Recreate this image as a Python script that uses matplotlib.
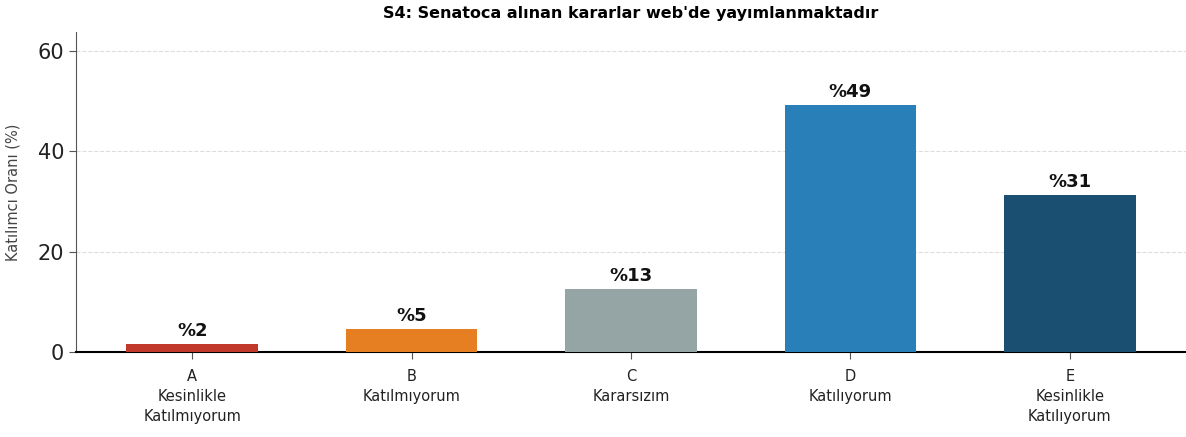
import matplotlib.pyplot as plt

# Survey answers for S4
letters = ["A", "B", "C", "D", "E"]
answers = ["Kesinlikle\nKatılmıyorum", "Katılmıyorum", "Kararsızım",
           "Katılıyorum", "Kesinlikle\nKatılıyorum"]
percent = [1.5, 4.6, 12.6, 49.2, 31.2]
colors = ["#c0392b", "#e67e22", "#95a5a6", "#2980b9", "#1b4f72"]

fig = plt.figure(figsize=(11.86, 4.37), dpi=100)
ax = fig.add_axes([76 / 1186, 1 - 352 / 437, 1 - 76 / 1186, 320 / 437])

x = range(len(letters))
bars = ax.bar(x, percent, width=0.6, color=colors, zorder=3)

for b, v in zip(bars, percent):
    ax.text(b.get_x() + b.get_width() / 2, v + 0.8, f"%{v:.0f}",
            ha="center", va="bottom", fontsize=13, fontweight="bold", color="#111111")

ax.set_xticks(list(x))
ax.set_xticklabels([f"{l}\n{a}" for l, a in zip(letters, answers)],
                   fontsize=10.5, color="#222222", linespacing=1.45)
ax.tick_params(axis="x", length=5, color="#555555", pad=7)
ax.tick_params(axis="y", labelsize=15, length=5, color="#555555", labelcolor="#222222")

ax.set_ylim(0, 63.7)
ax.set_yticks([0, 20, 40, 60])
ax.set_ylabel("Katılımcı Oranı (%)", fontsize=10.5, color="#444444", labelpad=12)
ax.set_title("S4: Senatoca alınan kararlar web'de yayımlanmaktadır",
             fontsize=11.5, fontweight="bold", pad=10)

ax.grid(axis="y", linestyle="--", color="#dddddd", linewidth=0.8, zorder=0)
ax.spines["top"].set_visible(False)
ax.spines["right"].set_visible(False)
ax.spines["left"].set_color("#555555")
ax.spines["bottom"].set_color("black")
ax.spines["bottom"].set_linewidth(1.5)

fig.savefig("out.png", dpi=100)
